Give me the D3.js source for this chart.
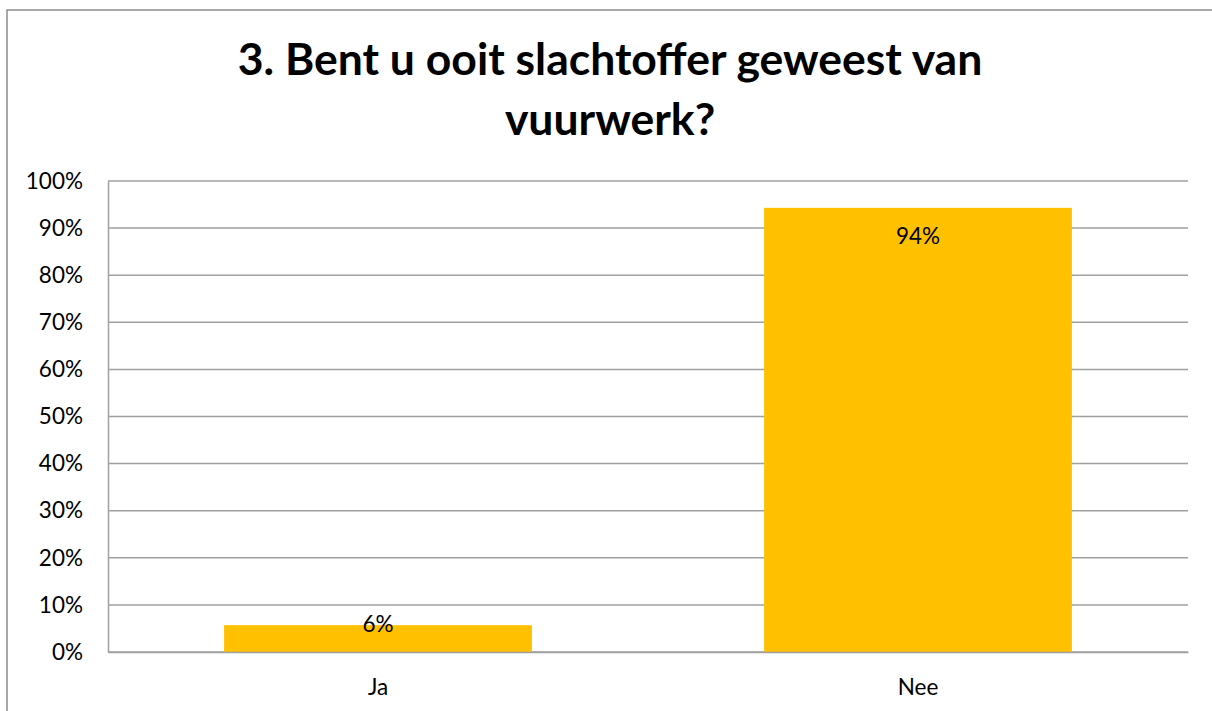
<!DOCTYPE html>
<html><head><meta charset="utf-8">
<script src="https://cdn.jsdelivr.net/npm/d3@7"></script>
<style>body{margin:0;background:#fff}svg{display:block}</style>
</head><body>
<svg id="c" width="1212" height="711"></svg>
<script>
const categories = ["Ja", "Nee"];
const values = [5.7, 94.3];
const valueLabels = ["6%", "94%"];
const yTicks = [0, 10, 20, 30, 40, 50, 60, 70, 80, 90, 100];
const titleLines = ["3. Bent u ooit slachtoffer geweest van", "vuurwerk?"];

const svg = d3.select("#c");
const font = "Lato, 'Open Sans', sans-serif";
const m = {left: 108, right: 1188, top: 181, bottom: 652};

svg.append("rect").attr("x", 7).attr("y", 10).attr("width", 1230).attr("height", 730)
  .attr("fill", "#fff").attr("stroke", "#8c8c8c").attr("stroke-width", 1.5);

const x = d3.scaleBand().domain(categories).range([m.left, m.right]).paddingInner(0.43).paddingOuter(0.215);
const y = d3.scaleLinear().domain([0, 100]).range([m.bottom, m.top]);

// gridlines
svg.append("g").selectAll("line").data(yTicks).join("line")
  .attr("x1", m.left).attr("x2", m.right)
  .attr("y1", d => y(d)).attr("y2", d => y(d))
  .attr("stroke", "#a0a0a0").attr("stroke-width", 1.5);

// y axis
const ya = svg.append("g").attr("transform", `translate(${m.left},0)`)
  .call(d3.axisLeft(y).tickValues(yTicks).tickFormat(d => d + "%").tickSize(0).tickPadding(25));
ya.select(".domain").attr("stroke", "#a0a0a0").attr("stroke-width", 1.5);
ya.selectAll("text").attr("font-family", font).attr("font-size", 22.5).attr("fill", "#000");

// bars
svg.append("g").selectAll("rect").data(values).join("rect")
  .attr("x", (d, i) => x(categories[i])).attr("width", x.bandwidth())
  .attr("y", d => y(d)).attr("height", d => y(0) - y(d))
  .attr("fill", "#FFC000");

// x axis
const xa = svg.append("g").attr("transform", `translate(0,${m.bottom})`)
  .call(d3.axisBottom(x).tickSize(0).tickPadding(27));
xa.select(".domain").attr("stroke", "#a0a0a0").attr("stroke-width", 1.5);
xa.selectAll("text").attr("font-family", font).attr("font-size", 22.5).attr("fill", "#000");

// value labels
svg.append("g").selectAll("text").data(values).join("text")
  .attr("x", (d, i) => x(categories[i]) + x.bandwidth() / 2)
  .attr("y", d => Math.min(y(d) + 28, y(0) - 28))
  .attr("dy", "0.35em").attr("text-anchor", "middle")
  .attr("font-family", font).attr("font-size", 22.5).attr("fill", "#000")
  .text((d, i) => valueLabels[i]);

// title
const t = svg.append("g");
titleLines.forEach((line, i) => {
  t.append("text").attr("x", 610).attr("y", 75 + i * 60)
    .attr("text-anchor", "middle").attr("font-family", font)
    .attr("font-weight", "bold").attr("font-size", 44.5).attr("fill", "#000")
    .text(line);
});
</script>
</body></html>
